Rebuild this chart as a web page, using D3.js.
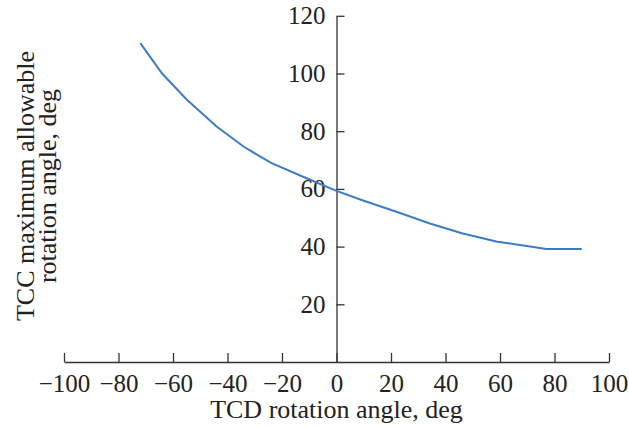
<!DOCTYPE html>
<html>
<head>
<meta charset="utf-8">
<script src="https://cdn.jsdelivr.net/npm/d3@7"></script>
<style>
  body { margin: 0; background: #fff; }
  svg text { font-family: "Liberation Serif", "Times New Roman", serif; fill: #222; }
</style>
</head>
<body>
<div id="chart"></div>
<script>
// curve
var tcdAngle = [-72, -64, -55, -44, -34, -24, -11, 0, 10, 22, 34, 46, 59, 71, 77, 90];
var tccMaxAngle = [110.5, 100, 91, 81.6, 74.6, 69, 63.7, 59.3, 55.9, 52.1, 48.1, 44.6, 41.7, 40, 39.2, 39.2];

var xTicks = [-100, -80, -60, -40, -20, 0, 20, 40, 60, 80, 100];
var yTicks = [20, 40, 60, 80, 100, 120];

var width = 629, height = 427;

var svg = d3.select("#chart").append("svg")
    .attr("width", width)
    .attr("height", height);

var x = d3.scaleLinear().domain([-100, 100]).range([64, 609]);
var y = d3.scaleLinear().domain([0, 120]).range([362, 362 - 120 * 2.885]);

var xAxis = d3.axisBottom(x)
    .tickValues(xTicks)
    .tickSizeInner(-9)
    .tickSizeOuter(0)
    .tickPadding(12);

var yAxis = d3.axisLeft(y)
    .tickValues(yTicks)
    .tickSizeInner(-8)
    .tickSizeOuter(0)
    .tickPadding(11);

var gx = svg.append("g")
    .attr("transform", "translate(0," + y(0) + ")")
    .call(xAxis);

var gy = svg.append("g")
    .attr("transform", "translate(" + x(0) + ",0)")
    .call(yAxis);

[gx, gy].forEach(function (g) {
    g.selectAll("path, line").attr("stroke", "#333").attr("stroke-width", 1.3);
    g.selectAll("text")
        .attr("font-size", 25)
        .attr("font-family", "Liberation Serif")
        .attr("fill", "#222");
});

var line = d3.line()
    .x(function (d, i) { return x(tcdAngle[i]); })
    .y(function (d) { return y(d); });

svg.append("path")
    .datum(tccMaxAngle)
    .attr("d", line)
    .attr("fill", "none")
    .attr("stroke", "#3d7cc5")
    .attr("stroke-width", 2);

// axis titles
svg.append("text")
    .attr("x", x(0))
    .attr("y", 418)
    .attr("text-anchor", "middle")
    .attr("font-size", 26)
    .text("TCD rotation angle, deg");

var ylab = svg.append("g");
ylab.append("text")
    .attr("transform", "translate(34,186) rotate(-90)")
    .attr("text-anchor", "middle")
    .attr("font-size", 26)
    .text("TCC maximum allowable");
ylab.append("text")
    .attr("transform", "translate(56,186) rotate(-90)")
    .attr("text-anchor", "middle")
    .attr("font-size", 26)
    .text("rotation angle, deg");
</script>
</body>
</html>
